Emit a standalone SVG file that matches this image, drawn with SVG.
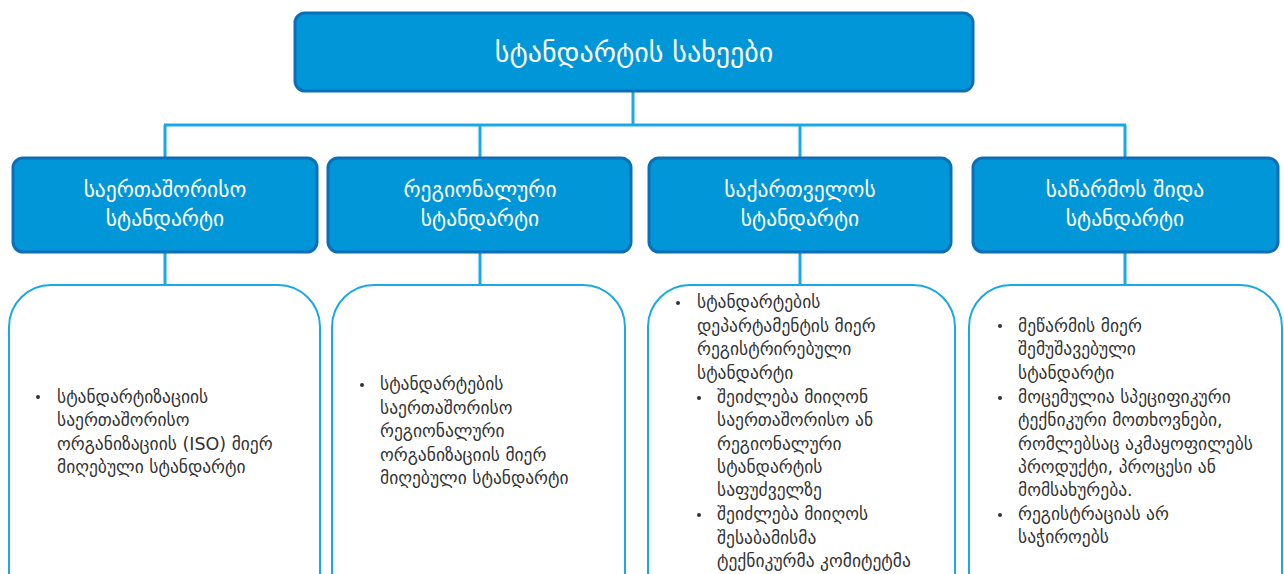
<svg xmlns="http://www.w3.org/2000/svg" width="1284" height="574" viewBox="0 0 1284 574">
  <style>
    .head { fill: #0096D8; stroke: #0A6FB8; stroke-width: 3; }
    .card { fill: #FFFFFF; stroke: #1AA8E6; stroke-width: 2; }
    .link { stroke: #1AA8E6; stroke-width: 3; fill: none; }
    .title { font-family: "DejaVu Sans", sans-serif; font-size: 28px; fill: #FFFFFF; text-anchor: middle; }
    .htxt { font-family: "DejaVu Sans", sans-serif; font-size: 21.5px; fill: #FFFFFF; text-anchor: middle; }
    .body { font-family: "DejaVu Sans", sans-serif; font-size: 17.5px; fill: #333333; }
    .dot { fill: #333333; }
  </style>

  <!-- connectors -->
  <g id="connectors">
    <line class="link" x1="633" y1="91" x2="633" y2="125"/>
    <line class="link" x1="164" y1="125" x2="1126" y2="125"/>
    <line class="link" x1="165" y1="125" x2="165" y2="158"/>
    <line class="link" x1="480" y1="125" x2="480" y2="158"/>
    <line class="link" x1="800" y1="125" x2="800" y2="158"/>
    <line class="link" x1="1125" y1="125" x2="1125" y2="158"/>
    <line class="link" x1="165" y1="252" x2="165" y2="285"/>
    <line class="link" x1="480" y1="252" x2="480" y2="285"/>
    <line class="link" x1="800" y1="252" x2="800" y2="285"/>
    <line class="link" x1="1125" y1="252" x2="1125" y2="285"/>
  </g>

  <!-- root -->
  <g id="root">
    <rect class="head" x="295" y="13" width="678" height="78" rx="10"/>
    <text class="title" x="634" y="62">სტანდარტის სახეები</text>
  </g>

  <!-- category headers -->
  <g id="international">
    <rect class="head" x="13" y="158" width="304" height="94" rx="10"/>
    <text class="htxt" x="165" y="197">საერთაშორისო</text>
    <text class="htxt" x="165" y="226">სტანდარტი</text>
  </g>
  <g id="regional">
    <rect class="head" x="328" y="158" width="303" height="94" rx="10"/>
    <text class="htxt" x="480" y="197">რეგიონალური</text>
    <text class="htxt" x="480" y="226">სტანდარტი</text>
  </g>
  <g id="national">
    <rect class="head" x="649" y="158" width="302" height="94" rx="10"/>
    <text class="htxt" x="800" y="197">საქართველოს</text>
    <text class="htxt" x="800" y="226">სტანდარტი</text>
  </g>
  <g id="enterprise">
    <rect class="head" x="973" y="158" width="305" height="94" rx="10"/>
    <text class="htxt" x="1125" y="197">საწარმოს შიდა</text>
    <text class="htxt" x="1125" y="226">სტანდარტი</text>
  </g>

  <!-- description cards -->
  <g id="international-detail">
    <rect class="card" x="9" y="285" width="311" height="330" rx="42"/>
    <circle class="dot" cx="38" cy="397" r="2"/>
    <text class="body" x="57" y="403">სტანდარტიზაციის</text>
    <text class="body" x="57" y="426">საერთაშორისო</text>
    <text class="body" x="57" y="450">ორგანიზაციის (ISO) მიერ</text>
    <text class="body" x="57" y="473">მიღებული სტანდარტი</text>
  </g>
  <g id="regional-detail">
    <rect class="card" x="332" y="285" width="293" height="330" rx="42"/>
    <circle class="dot" cx="362" cy="385" r="2"/>
    <text class="body" x="380" y="390">სტანდარტების</text>
    <text class="body" x="380" y="414">საერთაშორისო</text>
    <text class="body" x="380" y="437">რეგიონალური</text>
    <text class="body" x="380" y="461">ორგანიზაციის მიერ</text>
    <text class="body" x="380" y="484">მიღებული სტანდარტი</text>
  </g>
  <g id="national-detail">
    <rect class="card" x="648" y="285" width="307" height="330" rx="42"/>
    <circle class="dot" cx="678" cy="303" r="2"/>
    <text class="body" x="697" y="308">სტანდარტების</text>
    <text class="body" x="697" y="332">დეპარტამენტის მიერ</text>
    <text class="body" x="697" y="355">რეგისტრირებული</text>
    <text class="body" x="697" y="379">სტანდარტი</text>
    <circle class="dot" cx="699" cy="398" r="2"/>
    <text class="body" x="717" y="403">შეიძლება მიიღონ</text>
    <text class="body" x="717" y="426">საერთაშორისო ან</text>
    <text class="body" x="717" y="450">რეგიონალური</text>
    <text class="body" x="717" y="473">სტანდარტის</text>
    <text class="body" x="717" y="496">საფუძველზე</text>
    <circle class="dot" cx="699" cy="515" r="2"/>
    <text class="body" x="717" y="520">შეიძლება მიიღოს</text>
    <text class="body" x="717" y="544">შესაბამისმა</text>
    <text class="body" x="717" y="567">ტექნიკურმა კომიტეტმა</text>
  </g>
  <g id="enterprise-detail">
    <rect class="card" x="969" y="285" width="313" height="330" rx="42"/>
    <circle class="dot" cx="1000" cy="326" r="2"/>
    <text class="body" x="1018" y="332">მეწარმის მიერ</text>
    <text class="body" x="1018" y="355">შემუშავებული</text>
    <text class="body" x="1018" y="379">სტანდარტი</text>
    <circle class="dot" cx="1000" cy="398" r="2"/>
    <text class="body" x="1018" y="403">მოცემულია სპეციფიკური</text>
    <text class="body" x="1018" y="426">ტექნიკური მოთხოვნები,</text>
    <text class="body" x="1018" y="450">რომლებსაც აკმაყოფილებს</text>
    <text class="body" x="1018" y="473">პროდუქტი, პროცესი ან</text>
    <text class="body" x="1018" y="496">მომსახურება.</text>
    <circle class="dot" cx="1000" cy="515" r="2"/>
    <text class="body" x="1018" y="520">რეგისტრაციას არ</text>
    <text class="body" x="1018" y="543">საჭიროებს</text>
  </g>
</svg>
